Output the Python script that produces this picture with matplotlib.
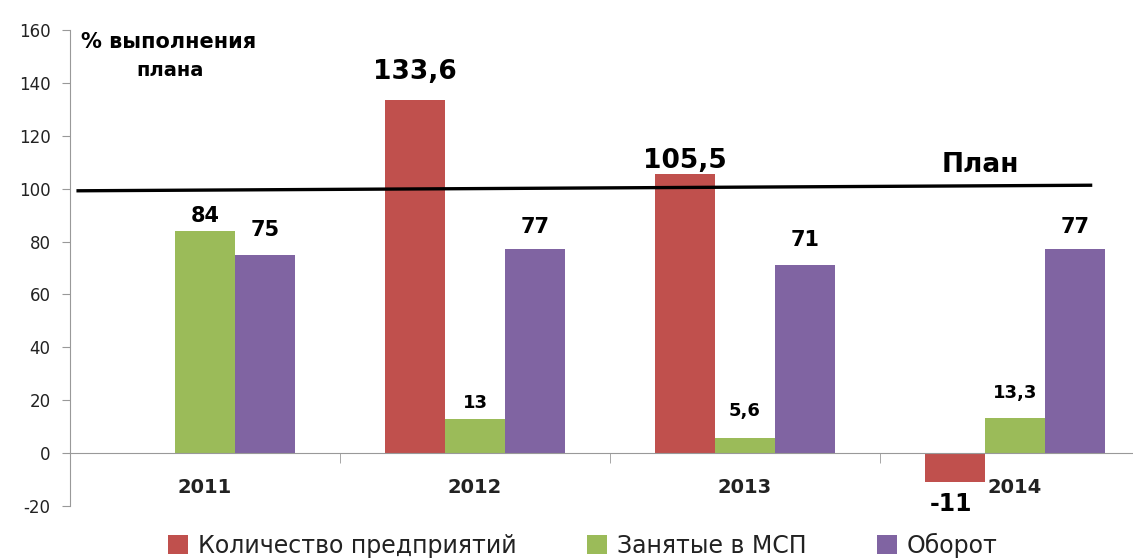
import matplotlib.pyplot as plt
import numpy as np

years = ["2011", "2012", "2013", "2014"]
enterprises = [None, 133.6, 105.5, -11]
employed = [84, 13, 5.6, 13.3]
turnover = [75, 77, 71, 77]
labels_ent = ["", "133,6", "105,5", "-11"]
labels_emp = ["84", "13", "5,6", "13,3"]
labels_turn = ["75", "77", "71", "77"]
series_names = ["Количество предприятий", "Занятые в МСП", "Оборот"]
plan_level = 100

colors = ["#C0504D", "#9BBB59", "#8064A2"]

# label gaps above/below the bar ends (points)
gap_ent = [0, 11, 0, 7]
gap_emp = [3.5, 4.5, 13, 11.5]
gap_turn = [11, 9, 11, 9]

plt.rcParams['font.family'] = ['DejaVu Sans']
plt.rcParams['axes.unicode_minus'] = False

fig = plt.figure(figsize=(11.33, 5.6), dpi=100)
ax = fig.add_axes([70 / 1133, 1 - 506 / 560, 1080 / 1133, 476 / 560])

x = np.arange(len(years))
w = 0.222

ent_vals = [np.nan if v is None else v for v in enterprises]
b1 = ax.bar(x - w, ent_vals, w, color=colors[0], label=series_names[0])
b2 = ax.bar(x, employed, w, color=colors[1], label=series_names[1])
b3 = ax.bar(x + w, turnover, w, color=colors[2], label=series_names[2])

# value labels
for i in range(len(years)):
    v = enterprises[i]
    if v is not None:
        if v >= 0:
            ax.annotate(labels_ent[i], (x[i] - w, v), xytext=(0, gap_ent[i]), textcoords="offset points",
                        ha="center", va="bottom", fontsize=19, fontweight="bold")
        else:
            ax.annotate(labels_ent[i], (x[i] - w, v), xytext=(-3, -gap_ent[i]), textcoords="offset points",
                        ha="center", va="top", fontsize=17, fontweight="bold")
    fs = 15 if employed[i] > 50 else 13
    ax.annotate(labels_emp[i], (x[i], employed[i]), xytext=(0, gap_emp[i]), textcoords="offset points",
                ha="center", va="bottom", fontsize=fs, fontweight="bold")
    ax.annotate(labels_turn[i], (x[i] + w, turnover[i]), xytext=(0, gap_turn[i]), textcoords="offset points",
                ha="center", va="bottom", fontsize=15, fontweight="bold")

# plan line
ax.plot([-0.47, 3.28], [plan_level - 0.8, plan_level + 1.3], color="black", lw=2.4, zorder=5)
ax.text(2.87, plan_level + 9, "План", fontsize=19, fontweight="bold", ha="center", va="center")

ax.text(-0.46, 155.5, "% выполнения", fontsize=15, fontweight="bold", ha="left", va="center")
ax.text(-0.13, 144.5, "плана", fontsize=14, fontweight="bold", ha="center", va="center")

ax.set_xlim(-0.5, 3.5)
ax.set_ylim(-20, 160)
ax.set_yticks(range(-20, 161, 20))
ax.tick_params(axis="y", labelsize=12, color="#999999", length=6, pad=8, labelcolor="#222222")

ax.spines["top"].set_visible(False)
ax.spines["right"].set_visible(False)
ax.spines["left"].set_color("#999999")
ax.spines["bottom"].set_color("#999999")
ax.spines["bottom"].set_position(("data", 0))

ax.set_xticks(x)
ax.set_xticklabels(years, fontsize=14, fontweight="bold", color="#222222")
ax.tick_params(axis="x", length=0, pad=18)
ax.set_xticks(np.arange(-0.5, 3.6, 1), minor=True)
ax.tick_params(axis="x", which="minor", length=7, color="#999999")

leg = fig.legend(handles=[b1, b2, b3], loc="center", bbox_to_anchor=(583 / 1133, 1 - 545 / 560),
                 ncol=3, frameon=False, fontsize=17, handlelength=0.85, handleheight=0.85,
                 handletextpad=0.4, columnspacing=3.0, labelcolor="#222222",
                 borderpad=0, borderaxespad=0)

fig.savefig("out.png", dpi=100)
